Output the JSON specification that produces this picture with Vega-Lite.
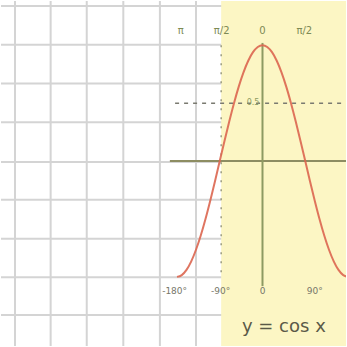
{
  "$schema": "https://vega.github.io/schema/vega-lite/v6.json",
  "width": 347,
  "height": 347,
  "autosize": {"type": "fit", "contains": "padding"},
  "padding": 0,
  "background": "white",
  "config": {"view": {"stroke": null}},
  "datasets": {
    "gridx": [{"x": -521}, {"x": -446}, {"x": -370}, {"x": -293}, {"x": -216}, {"x": -140}],
    "gridy": [{"y": 1.339}, {"y": 1.004}, {"y": 0.67}, {"y": 0.335}, {"y": -0.009}, {"y": -0.335}, {"y": -0.67}, {"y": -1.004}, {"y": -1.33}],
    "curve": [
      {"x": -180, "y": -1}, {"x": -170, "y": -0.985}, {"x": -160, "y": -0.94}, {"x": -150, "y": -0.866},
      {"x": -140, "y": -0.766}, {"x": -130, "y": -0.643}, {"x": -120, "y": -0.5}, {"x": -110, "y": -0.342},
      {"x": -100, "y": -0.174}, {"x": -90, "y": 0}, {"x": -80, "y": 0.174}, {"x": -70, "y": 0.342},
      {"x": -60, "y": 0.5}, {"x": -50, "y": 0.643}, {"x": -40, "y": 0.766}, {"x": -30, "y": 0.866},
      {"x": -20, "y": 0.94}, {"x": -10, "y": 0.985}, {"x": 0, "y": 1}, {"x": 10, "y": 0.985},
      {"x": 20, "y": 0.94}, {"x": 30, "y": 0.866}, {"x": 40, "y": 0.766}, {"x": 50, "y": 0.643},
      {"x": 60, "y": 0.5}, {"x": 70, "y": 0.342}, {"x": 80, "y": 0.174}, {"x": 90, "y": 0},
      {"x": 100, "y": -0.174}, {"x": 110, "y": -0.342}, {"x": 120, "y": -0.5}, {"x": 130, "y": -0.643},
      {"x": 140, "y": -0.766}, {"x": 150, "y": -0.866}, {"x": 160, "y": -0.94}, {"x": 170, "y": -0.985},
      {"x": 180, "y": -1}
    ],
    "bottomLabels": [
      {"x": -185, "y": -1.12, "label": "-180°"},
      {"x": -88, "y": -1.12, "label": "-90°"},
      {"x": 0, "y": -1.12, "label": "0"},
      {"x": 110, "y": -1.12, "label": "90°"}
    ],
    "topLabels": [
      {"x": -172, "y": 1.125, "label": "π"},
      {"x": -86, "y": 1.125, "label": "π/2"},
      {"x": 0, "y": 1.125, "label": "0"},
      {"x": 88, "y": 1.125, "label": "π/2"}
    ]
  },
  "layer": [
    {
      "data": {"name": "gridx"},
      "mark": {"type": "rule", "color": "#d4d4d4", "strokeWidth": 2},
      "encoding": {
        "x": {"field": "x", "type": "quantitative", "scale": {"domain": [-550.5, 175.8], "nice": false, "zero": false}, "axis": null}
      }
    },
    {
      "data": {"name": "gridy"},
      "mark": {"type": "rule", "color": "#d4d4d4", "strokeWidth": 2},
      "encoding": {
        "y": {"field": "y", "type": "quantitative", "scale": {"domain": [-1.597, 1.382], "nice": false, "zero": false}, "axis": null}
      }
    },
    {
      "data": {"values": [{"x1": -87, "x2": 175.8, "y1": 1.382, "y2": -1.597}]},
      "mark": {"type": "rect", "color": "#fcf6c4", "clip": true},
      "encoding": {
        "x": {"field": "x1", "type": "quantitative"},
        "x2": {"field": "x2"},
        "y": {"field": "y1", "type": "quantitative"},
        "y2": {"field": "y2"}
      }
    },
    {
      "data": {"values": [{"x1": -87, "y1": 1.0, "y2": -1.0}]},
      "mark": {"type": "rule", "color": "#9a9a80", "strokeWidth": 1.5, "strokeDash": [2, 7]},
      "encoding": {
        "x": {"field": "x1", "type": "quantitative"},
        "y": {"field": "y1", "type": "quantitative"},
        "y2": {"field": "y2"}
      }
    },
    {
      "data": {"values": [{"x1": -195, "x2": 175.8, "y": 0}]},
      "mark": {"type": "rule", "color": "#8d8d62", "strokeWidth": 2, "clip": true},
      "encoding": {
        "x": {"field": "x1", "type": "quantitative"},
        "x2": {"field": "x2"},
        "y": {"field": "y", "type": "quantitative"}
      }
    },
    {
      "data": {"values": [{"x": 0, "y1": 1.02, "y2": -1.08}]},
      "mark": {"type": "rule", "color": "#8d9a62", "strokeWidth": 2},
      "encoding": {
        "x": {"field": "x", "type": "quantitative"},
        "y": {"field": "y1", "type": "quantitative"},
        "y2": {"field": "y2"}
      }
    },
    {
      "data": {"values": [{"x1": -184, "x2": 175.8, "y": 0.5}]},
      "mark": {"type": "rule", "color": "#7a7a70", "strokeWidth": 1.5, "strokeDash": [4, 5], "clip": true},
      "encoding": {
        "x": {"field": "x1", "type": "quantitative"},
        "x2": {"field": "x2"},
        "y": {"field": "y", "type": "quantitative"}
      }
    },
    {
      "data": {"name": "curve"},
      "mark": {"type": "line", "color": "#dc6650", "strokeWidth": 2, "opacity": 0.9, "interpolate": "monotone", "clip": true},
      "encoding": {
        "x": {"field": "x", "type": "quantitative"},
        "y": {"field": "y", "type": "quantitative"}
      }
    },
    {
      "data": {"name": "bottomLabels"},
      "mark": {"type": "text", "fontSize": 9, "font": "DejaVu Sans", "color": "#77776a", "baseline": "middle", "clip": true},
      "encoding": {
        "x": {"field": "x", "type": "quantitative"},
        "y": {"field": "y", "type": "quantitative"},
        "text": {"field": "label"}
      }
    },
    {
      "data": {"name": "topLabels"},
      "mark": {"type": "text", "fontSize": 10, "font": "DejaVu Sans", "color": "#7d8a55", "baseline": "middle", "clip": true},
      "encoding": {
        "x": {"field": "x", "type": "quantitative"},
        "y": {"field": "y", "type": "quantitative"},
        "text": {"field": "label"}
      }
    },
    {
      "data": {"values": [{"x": -20, "y": 0.5, "label": "0.5"}]},
      "mark": {"type": "text", "fontSize": 8, "font": "DejaVu Sans", "color": "#8d9a62", "baseline": "middle", "clip": true},
      "encoding": {
        "x": {"field": "x", "type": "quantitative"},
        "y": {"field": "y", "type": "quantitative"},
        "text": {"field": "label"}
      }
    },
    {
      "data": {"values": [{"x": 45, "y": -1.433, "label": "y = cos x"}]},
      "mark": {"type": "text", "fontSize": 18, "font": "DejaVu Sans", "color": "#5a5a48", "baseline": "middle", "clip": true},
      "encoding": {
        "x": {"field": "x", "type": "quantitative"},
        "y": {"field": "y", "type": "quantitative"},
        "text": {"field": "label"}
      }
    }
  ]
}
